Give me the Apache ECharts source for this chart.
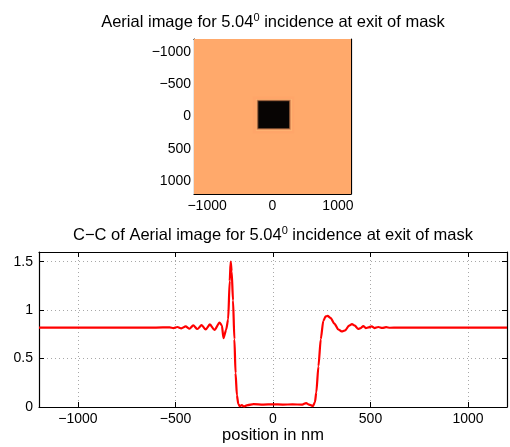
<!DOCTYPE html>
<html>
<head>
<meta charset="utf-8">
<script src="https://cdn.jsdelivr.net/npm/echarts@6/dist/echarts.min.js"></script>
<style>
	html, body { margin: 0; padding: 0; background: #fff; }
	#chart { width: 510px; height: 447px; }
</style>
</head>
<body>
<div id="chart"></div>
<script>
/* titles */
const topTitle = [ "Aerial image for 5.04", "0", " incidence at exit of mask" ];
const bottomTitle = [ "C\u2212C of Aerial image for 5.04", "0", " incidence at exit of mask" ];
const xName = "position in nm";

/* tick labels */
const imgXTicks = [ -1000, 0, 1000 ];
const imgYTicks = [ -1000, -500, 0, 500, 1000 ];
const cutXTicks = [ -1000, -500, 0, 500, 1000 ];

/* aerial image: nested rectangles [x0, x1, y0, y1, intensity] */
const imageRects = [
	[ -1200, 1200, -1200, 1200, 0.82 ],
	[ -300, 330, -310, 260, 0.80 ],
	[ -255, 300, -272, 225, 0.86 ],
	[ -240, 280, -260, 205, 0.65 ],
	[ -228, 264, -248, 190, 0.30 ],
	[ -215, 252, -236, 180, 0.02 ]
];

/* C-C cross section */
const cutPos = [ -1200, -600, -530, -510, -490, -470, -448, -428, -409, -388, -366, -345, -324, -300, -274, -262, -254, -240, -230, -222, -217, -212, -205, -198, -192, -185, -178, -170, -160, -150, -130, -100, -50, 0, 50, 100, 150, 170, 185, 205, 215, 222, 233, 245, 258, 270, 280, 295, 315, 335, 352, 370, 390, 405, 420, 437, 450, 463, 476, 490, 506, 520, 540, 560, 580, 600, 640, 1200 ];
const cutVal = [ 0.82, 0.82, 0.822, 0.815, 0.826, 0.812, 0.832, 0.808, 0.842, 0.805, 0.845, 0.800, 0.852, 0.795, 0.872, 0.84, 0.71, 0.80, 0.905, 1.30, 1.50, 1.40, 1.10, 0.70, 0.35, 0.12, 0.03, 0.01, 0.02, 0.005, 0.02, 0.03, 0.025, 0.028, 0.025, 0.027, 0.025, 0.04, 0.025, 0.01, 0.05, 0.15, 0.42, 0.70, 0.89, 0.935, 0.94, 0.92, 0.86, 0.80, 0.78, 0.79, 0.84, 0.856, 0.84, 0.805, 0.815, 0.835, 0.815, 0.822, 0.832, 0.815, 0.826, 0.816, 0.824, 0.818, 0.82, 0.82 ];

const font = "'Liberation Sans', Arial, Helvetica, sans-serif";
const minus = v => String( v ).replace( "-", "\u2212" );

const chart = echarts.init( document.getElementById( "chart" ), null, { renderer: "canvas" } );

function titleText( parts, x, y ) {
	return {
		type: "text",
		x, y,
		style: {
			text: `{a|${ parts[0] }}{s|${ parts[1] }}{a|${ parts[2] }}`,
			align: "center",
			verticalAlign: "middle",
			fill: "#000",
			rich: {
				a: { fontSize: 16.5, fontFamily: font, fill: "#000" },
				s: { fontSize: 11, fontFamily: font, fill: "#000", padding: [ 0, 0, 9, 0 ] }
			}
		}
	};
}

/* box axis helper */
function boxAxis( grid, pos, opts ) {
	return Object.assign( {
		type: "value",
		gridIndex: grid,
		position: pos,
		min: -1200,
		max: 1200,
		axisLine: { show: true, onZero: false, lineStyle: { color: "#000", width: 1.2 } },
		axisTick: { show: true, inside: true, length: 4, lineStyle: { color: "#000" } },
		axisLabel: { show: false },
		splitLine: { show: false }
	}, opts );
}

const labelStyle = { color: "#000", fontSize: 14, fontFamily: font, formatter: minus };
const dotted = { show: true, lineStyle: { color: "#a8a8a8", type: [ 1, 3 ], width: 1 } };

const option = {
	animation: false,
	backgroundColor: "#fff",
	graphic: [
		titleText( topTitle, 273, 22 ),
		titleText( bottomTitle, 273, 235 )
	],
	grid: [
		{ left: 194, top: 39, width: 157, height: 155, outerBoundsMode: "none" },
		{ left: 39, top: 252, width: 468, height: 155, outerBoundsMode: "none" }
	],
	visualMap: {
		type: "continuous",
		show: false,
		seriesIndex: 0,
		dimension: 4,
		min: 0,
		max: 0.966,
		inRange: { color: [ "#000000", "#402819", "#805033", "#BF784C", "#FF9F65", "#FFC77F" ] }
	},
	xAxis: [
		boxAxis( 0, "bottom", {
			axisTick: { show: true, inside: true, length: 3, customValues: imgXTicks, lineStyle: { color: "#000" } },
			axisLabel: Object.assign( { show: true, margin: 5, customValues: imgXTicks }, labelStyle )
		} ),
		boxAxis( 0, "top", { axisTick: { show: true, inside: true, length: 3, customValues: imgXTicks, lineStyle: { color: "#000" } } } ),
		boxAxis( 1, "bottom", {
			name: xName,
			nameLocation: "middle",
			nameGap: 20,
			nameTextStyle: { color: "#000", fontSize: 16.5, fontFamily: font },
			axisTick: { show: true, inside: true, length: 5, customValues: cutXTicks, lineStyle: { color: "#000" } },
			axisLabel: Object.assign( { show: true, margin: 5, customValues: cutXTicks }, labelStyle ),
			splitLine: dotted
		} ),
		boxAxis( 1, "top", { axisTick: { show: true, inside: true, length: 5, customValues: cutXTicks, lineStyle: { color: "#000" } } } )
	],
	yAxis: [
		boxAxis( 0, "left", {
			inverse: true,
			axisTick: { show: true, inside: true, length: 3, customValues: imgYTicks, lineStyle: { color: "#000" } },
			axisLabel: Object.assign( { show: true, margin: 3, customValues: imgYTicks }, labelStyle )
		} ),
		boxAxis( 0, "right", {
			inverse: true,
			axisTick: { show: true, inside: true, length: 3, customValues: imgYTicks, lineStyle: { color: "#000" } }
		} ),
		boxAxis( 1, "left", {
			min: 0,
			max: 1.6,
			interval: 0.5,
			axisTick: { show: true, inside: true, length: 5, lineStyle: { color: "#000" } },
			axisLabel: Object.assign( { show: true, margin: 6 }, labelStyle ),
			splitLine: dotted
		} ),
		boxAxis( 1, "right", {
			min: 0,
			max: 1.6,
			interval: 0.5,
			axisTick: { show: true, inside: true, length: 5, lineStyle: { color: "#000" } }
		} )
	],
	series: [
		{
			type: "custom",
			xAxisIndex: 0,
			yAxisIndex: 0,
			clip: true,
			silent: true,
			data: imageRects,
			encode: { x: [ 0, 1 ], y: [ 2, 3 ] },
			renderItem( params, api ) {
				const p0 = api.coord( [ api.value( 0 ), api.value( 2 ) ] );
				const p1 = api.coord( [ api.value( 1 ), api.value( 3 ) ] );
				return {
					type: "rect",
					shape: {
						x: Math.min( p0[0], p1[0] ),
						y: Math.min( p0[1], p1[1] ),
						width: Math.abs( p1[0] - p0[0] ),
						height: Math.abs( p1[1] - p0[1] )
					},
					style: { fill: api.visual( "color" ) }
				};
			}
		},
		{
			type: "line",
			xAxisIndex: 2,
			yAxisIndex: 2,
			showSymbol: false,
			smooth: 0.25,
			smoothMonotone: "x",
			lineStyle: { color: "#ff0000", width: 2.2 },
			data: cutPos.map( ( x, i ) => [ x, cutVal[i] ] )
		}
	]
};

chart.setOption( option );
</script>
</body>
</html>
